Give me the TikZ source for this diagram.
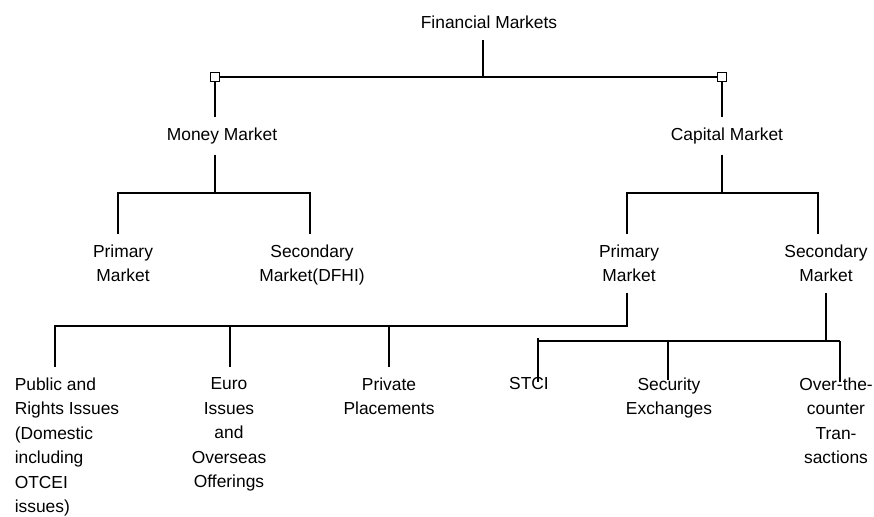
\documentclass[tikz,border=0pt]{standalone}
\usepackage{fontspec}
\setmainfont{Liberation Sans}

\begin{document}
\begin{tikzpicture}[x=1pt, y=-1pt, line width=1.5pt,
    lbl/.style={anchor=north, align=center, inner xsep=0pt, inner ysep=10pt,
        font=\fontsize{17.4}{24.5}\selectfont},
    jbox/.style={draw, fill=white, line width=1pt, minimum size=9pt, inner sep=0pt}]
    \useasboundingbox (0,0) rectangle (874,516);

    % labels
    \node[lbl] (fm) at (489,5.5) {Financial Markets};
    \node[lbl] (mm) at (222,117) {Money Market};
    \node[lbl] (cm) at (727,117) {Capital Market};
    \node[lbl] (mmp) at (123,234) {Primary\\Market};
    \node[lbl] (mms) at (312,234) {Secondary\\Market(DFHI)};
    \node[lbl] (cmp) at (629,234) {Primary\\Market};
    \node[lbl] (cms) at (826,234) {Secondary\\Market};
    \node[lbl, anchor=north west, align=left] (pub) at (14,367)
        {Public and\\Rights Issues\\(Domestic\\including\\OTCEI\\issues)};
    \node[lbl] (euro) at (229,367) {Euro\\Issues\\and\\Overseas\\Offerings};
    \node[lbl] (priv) at (389,367) {Private\\Placements};
    \node[lbl] (stci) at (529,367) {STCI};
    \node[lbl] (sec) at (669,367) {Security\\Exchanges};
    \node[lbl] (otc) at (836,367) {Over-the-\\counter\\Tran-\\sactions};

    % junctions
    \coordinate (top-j) at (483,77);
    \node[jbox] (lbox) at (215,77) {};
    \node[jbox] (rbox) at (722,77) {};
    \coordinate (mm-j) at (215,193);
    \coordinate (mm-l) at (118,193);
    \coordinate (mm-r) at (310,193);
    \coordinate (cm-j) at (722,193);
    \coordinate (cm-l) at (627,193);
    \coordinate (cm-r) at (818,193);
    \coordinate (pb-r) at (627,326);
    \coordinate (pb-l) at (55,326);
    \coordinate (pb-e) at (230,326);
    \coordinate (pb-p) at (389,326);
    \coordinate (sb-j) at (826,341);
    \coordinate (sb-l) at (538,341);
    \coordinate (sb-s) at (668,341);
    \coordinate (sb-r) at (840,341);

    % first level
    \draw (lbox) -- (rbox);
    \draw (top-j |- fm.south) -- (top-j);
    \draw (lbox) -- (lbox |- mm.north);
    \draw (rbox) -- (rbox |- cm.north);

    % money market
    \draw (mm-j |- mm.south) -- (mm-j);
    \draw (mm-l |- mmp.north) -- (mm-l) -- (mm-r) -- (mm-r |- mms.north);

    % capital market
    \draw (cm-j |- cm.south) -- (cm-j);
    \draw (cm-l |- cmp.north) -- (cm-l) -- (cm-r) -- (cm-r |- cms.north);

    % primary market issues
    \draw (pb-r |- cmp.south) -- (pb-r) -- (pb-l) -- (pb-l |- pub.north);
    \draw (pb-e) -- (pb-e |- euro.north);
    \draw (pb-p) -- (pb-p |- priv.north);

    % secondary market
    \draw (sb-j |- cms.south) -- (sb-j);
    \draw (sb-l) -- (sb-r);
    \draw ([yshift=3pt]sb-l) -- (sb-l |- stci.north) -- ++(0,15);
    \draw (sb-s) -- (sb-s |- sec.north) -- ++(0,13);
    \draw (sb-r) -- (sb-r |- otc.north) -- ++(0,15);
\end{tikzpicture}
\end{document}
